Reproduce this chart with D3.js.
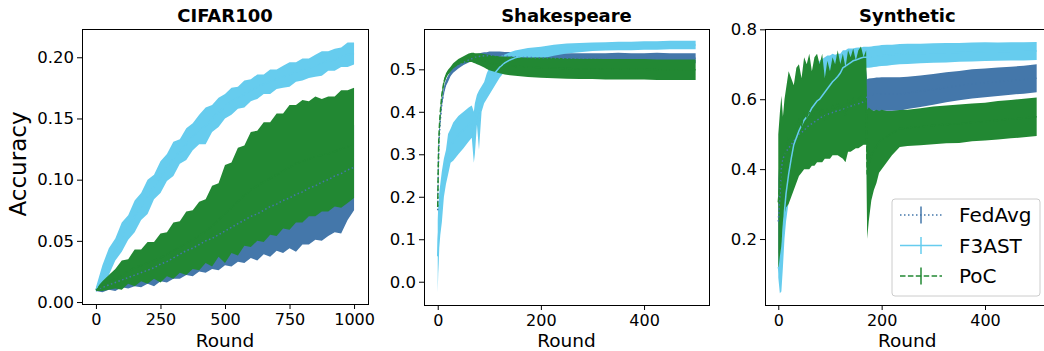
<!DOCTYPE html>
<html>
<head>
<meta charset="utf-8">
<script src="https://cdn.jsdelivr.net/npm/d3@7"></script>
<style>
  body { margin: 0; background: #fff; }
  svg { font-family: "DejaVu Sans", sans-serif; }
</style>
</head>
<body>
<script>
// series order: FedAvg, F3AST, PoC
const seriesNames = ["FedAvg", "F3AST", "PoC"];
const seriesColors = ["#4477aa", "#66ccee", "#228833"];
const seriesDash = ["1.5,2.5", null, "5.5,2.4"];

// CIFAR100 (mean and error bar half-width per round)
const cifarRounds = d3.range(0, 1001, 25);
const cifarFedMean = [0.010,0.012,0.014,0.016,0.018,0.020,0.022,0.024,0.026,0.028,0.031,0.033,0.036,0.039,0.042,0.044,0.047,0.050,0.052,0.055,0.058,0.061,0.064,0.067,0.070,0.072,0.075,0.078,0.080,0.083,0.085,0.088,0.090,0.093,0.095,0.098,0.100,0.103,0.105,0.108,0.110];
const cifarFedErr = [0.001,0.004,0.004,0.007,0.006,0.009,0.009,0.012,0.011,0.015,0.014,0.017,0.017,0.020,0.020,0.023,0.022,0.026,0.025,0.029,0.028,0.032,0.031,0.035,0.034,0.038,0.036,0.041,0.038,0.043,0.041,0.047,0.043,0.046,0.044,0.048,0.046,0.046,0.049,0.041,0.035];
const cifarF3Mean = [0.010,0.022,0.033,0.043,0.053,0.061,0.070,0.078,0.086,0.094,0.102,0.110,0.117,0.123,0.129,0.135,0.141,0.144,0.150,0.155,0.160,0.164,0.167,0.170,0.173,0.176,0.178,0.180,0.182,0.184,0.186,0.188,0.190,0.191,0.193,0.195,0.197,0.198,0.200,0.202,0.203];
const cifarF3Err = [0.002,0.008,0.011,0.009,0.012,0.010,0.013,0.011,0.014,0.010,0.013,0.011,0.014,0.010,0.013,0.011,0.012,0.015,0.011,0.012,0.010,0.011,0.009,0.011,0.009,0.010,0.008,0.010,0.008,0.009,0.010,0.008,0.009,0.008,0.009,0.010,0.008,0.009,0.008,0.010,0.009];
const cifarPocMean = [0.010,0.013,0.016,0.019,0.022,0.025,0.028,0.030,0.032,0.034,0.036,0.039,0.042,0.045,0.048,0.051,0.054,0.058,0.062,0.067,0.072,0.077,0.082,0.087,0.092,0.095,0.098,0.101,0.104,0.107,0.110,0.113,0.115,0.117,0.119,0.120,0.121,0.123,0.125,0.127,0.130];
const cifarPocErr = [0.001,0.004,0.006,0.008,0.012,0.010,0.015,0.013,0.017,0.015,0.020,0.018,0.023,0.021,0.026,0.024,0.028,0.026,0.033,0.030,0.040,0.037,0.044,0.041,0.047,0.045,0.049,0.046,0.050,0.047,0.051,0.048,0.050,0.047,0.049,0.046,0.047,0.045,0.048,0.046,0.045];

// Shakespeare
const shakeRounds = [0,1,2,3,5,8,12,16,20,25,30,40,50,60,66,70,72,76,80,85,90,95,100,110,120,130,140,150,175,200,225,250,275,300,325,350,375,400,425,450,475,500];
const shakeFedMean = [0.168,0.260,0.310,0.340,0.380,0.420,0.450,0.468,0.478,0.490,0.498,0.508,0.516,0.522,0.525,0.527,0.528,0.529,0.530,0.531,0.532,0.532,0.533,0.533,0.532,0.531,0.530,0.529,0.528,0.527,0.527,0.526,0.526,0.526,0.526,0.527,0.526,0.526,0.527,0.526,0.526,0.526];
const shakeFedErr = [0.006,0.008,0.008,0.008,0.008,0.008,0.008,0.007,0.007,0.006,0.006,0.006,0.006,0.006,0.006,0.007,0.007,0.007,0.007,0.008,0.008,0.008,0.009,0.009,0.010,0.010,0.011,0.011,0.012,0.012,0.012,0.012,0.012,0.012,0.012,0.012,0.012,0.012,0.012,0.012,0.012,0.012];
const shakeF3Mean = [0.060,0.100,0.117,0.145,0.170,0.200,0.245,0.270,0.300,0.320,0.330,0.345,0.357,0.370,0.377,0.340,0.360,0.405,0.380,0.430,0.445,0.460,0.472,0.490,0.505,0.515,0.522,0.527,0.534,0.539,0.545,0.549,0.551,0.553,0.554,0.555,0.555,0.556,0.556,0.557,0.557,0.557];
const shakeF3Err = [0.085,0.080,0.073,0.065,0.060,0.060,0.045,0.040,0.048,0.040,0.045,0.045,0.043,0.040,0.038,0.060,0.060,0.035,0.070,0.030,0.025,0.030,0.032,0.030,0.025,0.020,0.018,0.017,0.016,0.014,0.013,0.012,0.011,0.010,0.010,0.010,0.010,0.010,0.010,0.010,0.010,0.010];
const shakePocMean = [0.176,0.270,0.330,0.360,0.400,0.440,0.470,0.485,0.493,0.500,0.508,0.517,0.523,0.527,0.528,0.527,0.526,0.525,0.524,0.522,0.520,0.518,0.516,0.513,0.511,0.509,0.508,0.507,0.505,0.504,0.503,0.502,0.501,0.501,0.500,0.500,0.500,0.500,0.499,0.499,0.499,0.499];
const shakePocErr = [0.005,0.006,0.006,0.006,0.006,0.006,0.006,0.006,0.006,0.006,0.006,0.007,0.008,0.010,0.011,0.012,0.012,0.013,0.014,0.015,0.016,0.017,0.018,0.019,0.020,0.021,0.022,0.022,0.023,0.024,0.024,0.024,0.024,0.024,0.024,0.024,0.024,0.024,0.024,0.024,0.024,0.024];

// Synthetic
const synRounds = [0,3,6,9,12,15,20,25,30,35,40,45,50,55,60,65,70,75,80,85,90,95,100,105,110,115,120,125,130,135,140,145,150,155,160,165,170,172,175,180,185,190,195,200,210,220,235,250,275,300,325,350,375,400,425,450,475,500];
const synFedMean = [0.250,0.320,0.400,0.430,0.440,0.450,0.460,0.470,0.480,0.490,0.500,0.505,0.510,0.520,0.525,0.530,0.535,0.540,0.545,0.550,0.553,0.556,0.560,0.562,0.565,0.567,0.570,0.572,0.575,0.578,0.580,0.583,0.585,0.587,0.590,0.592,0.593,0.612,0.613,0.613,0.614,0.614,0.614,0.615,0.615,0.615,0.615,0.618,0.623,0.628,0.634,0.639,0.644,0.647,0.650,0.653,0.656,0.660];
const synFedErr = [0.120,0.120,0.120,0.110,0.110,0.110,0.090,0.090,0.090,0.090,0.090,0.090,0.090,0.090,0.090,0.090,0.090,0.090,0.090,0.090,0.090,0.090,0.090,0.090,0.090,0.090,0.090,0.090,0.090,0.090,0.090,0.090,0.090,0.090,0.090,0.090,0.090,0.045,0.046,0.047,0.047,0.048,0.048,0.048,0.048,0.048,0.048,0.046,0.045,0.044,0.043,0.042,0.042,0.041,0.041,0.040,0.040,0.040];
const synF3Mean = [0.120,0.100,0.130,0.200,0.280,0.330,0.385,0.430,0.470,0.490,0.510,0.525,0.540,0.550,0.560,0.575,0.585,0.595,0.600,0.610,0.620,0.630,0.640,0.650,0.657,0.665,0.675,0.690,0.695,0.700,0.705,0.710,0.712,0.715,0.718,0.720,0.720,0.720,0.720,0.721,0.722,0.723,0.724,0.725,0.726,0.727,0.729,0.730,0.731,0.732,0.733,0.734,0.735,0.736,0.736,0.737,0.737,0.738];
const synF3Err = [0.030,0.055,0.080,0.080,0.080,0.080,0.080,0.080,0.080,0.080,0.080,0.090,0.090,0.090,0.090,0.090,0.090,0.100,0.110,0.105,0.100,0.095,0.085,0.080,0.070,0.065,0.055,0.050,0.045,0.045,0.040,0.035,0.035,0.033,0.030,0.030,0.030,0.030,0.030,0.030,0.030,0.030,0.030,0.030,0.030,0.029,0.029,0.029,0.028,0.028,0.028,0.027,0.027,0.027,0.026,0.026,0.026,0.026];
const synPocMean = [0.305,0.355,0.395,0.400,0.435,0.460,0.490,0.490,0.490,0.525,0.540,0.525,0.560,0.550,0.565,0.545,0.565,0.575,0.560,0.575,0.545,0.570,0.555,0.580,0.570,0.590,0.568,0.580,0.555,0.595,0.585,0.600,0.585,0.600,0.608,0.595,0.605,0.385,0.413,0.440,0.453,0.465,0.478,0.485,0.493,0.503,0.516,0.518,0.521,0.525,0.528,0.530,0.534,0.536,0.540,0.543,0.546,0.550];
const synPocErr = [0.195,0.205,0.215,0.150,0.165,0.170,0.190,0.170,0.150,0.165,0.160,0.135,0.160,0.150,0.165,0.135,0.155,0.155,0.140,0.155,0.115,0.140,0.125,0.140,0.130,0.150,0.133,0.150,0.135,0.145,0.135,0.145,0.125,0.140,0.143,0.125,0.135,0.185,0.163,0.130,0.113,0.105,0.088,0.085,0.073,0.063,0.053,0.052,0.053,0.054,0.054,0.055,0.054,0.054,0.055,0.055,0.055,0.055];

// tick labels
const cifarXTicks = [0, 250, 500, 750, 1000];
const cifarYTicks = [0, 0.05, 0.10, 0.15, 0.20];
const shakeXTicks = [0, 200, 400];
const shakeYTicks = [0, 0.1, 0.2, 0.3, 0.4, 0.5];
const synXTicks = [0, 200, 400];
const synYTicks = [0.2, 0.4, 0.6, 0.8];

const width = 1044, height = 351;
const axTop = 29;

const panels = [
  { title: "CIFAR100", left: 82, right: 368, bottom: 304, xDomain: [-54, 1054], yDomain: [-0.0016, 0.2231],
    xTicks: cifarXTicks, yTicks: cifarYTicks, fmt: d3.format(".2f"), rounds: cifarRounds,
    mean: [cifarFedMean, cifarF3Mean, cifarPocMean], err: [cifarFedErr, cifarF3Err, cifarPocErr] },
  { title: "Shakespeare", left: 424, right: 709, bottom: 305, xDomain: [-26.6, 525.9], yDomain: [-0.0548, 0.5949],
    xTicks: shakeXTicks, yTicks: shakeYTicks, fmt: d3.format(".1f"), rounds: shakeRounds,
    mean: [shakeFedMean, shakeF3Mean, shakePocMean], err: [shakeFedErr, shakeF3Err, shakePocErr] },
  { title: "Synthetic", left: 765, right: 1049.6, bottom: 305, xDomain: [-25.7, 525], yDomain: [0.0113, 0.8009],
    xTicks: synXTicks, yTicks: synYTicks, fmt: d3.format(".1f"), rounds: synRounds,
    mean: [synFedMean, synF3Mean, synPocMean], err: [synFedErr, synF3Err, synPocErr], legend: true }
];

const svg = d3.select("body").append("svg")
  .attr("width", width)
  .attr("height", height);

panels.forEach(function (p, k) {
  const x = d3.scaleLinear().domain(p.xDomain).range([p.left, p.right]);
  const y = d3.scaleLinear().domain(p.yDomain).range([p.bottom, axTop]);

  const clipId = "clip" + k;
  svg.append("clipPath").attr("id", clipId)
    .append("rect")
    .attr("x", p.left).attr("y", axTop)
    .attr("width", p.right - p.left).attr("height", p.bottom - axTop);

  const plot = svg.append("g").attr("clip-path", "url(#" + clipId + ")");

  // error bands
  seriesNames.forEach(function (s, j) {
    const m = p.mean[j], e = p.err[j];
    const band = d3.area()
      .x((d, i) => x(p.rounds[i]))
      .y0((d, i) => y(m[i] - e[i]))
      .y1((d, i) => y(m[i] + e[i]));
    plot.append("path")
      .datum(m)
      .attr("d", band)
      .attr("fill", seriesColors[j]);
  });

  // mean lines
  seriesNames.forEach(function (s, j) {
    const line = d3.line()
      .x((d, i) => x(p.rounds[i]))
      .y(d => y(d));
    plot.append("path")
      .datum(p.mean[j])
      .attr("d", line)
      .attr("fill", "none")
      .attr("stroke", seriesColors[j])
      .attr("stroke-width", 1.5)
      .attr("stroke-dasharray", seriesDash[j]);
  });

  // axes
  const xAxis = svg.append("g")
    .attr("transform", "translate(0," + p.bottom + ")")
    .call(d3.axisBottom(x).tickValues(p.xTicks).tickSize(5).tickPadding(5).tickFormat(d3.format("d")));
  const yAxis = svg.append("g")
    .attr("transform", "translate(" + p.left + ",0)")
    .call(d3.axisLeft(y).tickValues(p.yTicks).tickSize(5).tickPadding(3).tickFormat(p.fmt));
  [xAxis, yAxis].forEach(function (a) {
    a.attr("font-family", "DejaVu Sans, sans-serif").attr("font-size", 16.5);
    a.select(".domain").remove();
    a.selectAll(".tick line").attr("stroke", "#000").attr("stroke-width", 1);
    a.selectAll(".tick text").attr("fill", "#000");
  });
  xAxis.attr("font-size", 16);

  // frame
  svg.append("rect")
    .attr("x", p.left + 0.5).attr("y", axTop + 0.5)
    .attr("width", p.right - p.left).attr("height", p.bottom - axTop)
    .attr("fill", "none")
    .attr("stroke", "#000")
    .attr("stroke-width", 1);

  svg.append("text")
    .attr("x", (p.left + p.right) / 2).attr("y", 22)
    .attr("text-anchor", "middle")
    .attr("font-size", 18).attr("font-weight", "bold")
    .text(p.title);

  svg.append("text")
    .attr("x", (p.left + p.right) / 2).attr("y", 346.5)
    .attr("text-anchor", "middle")
    .attr("font-size", 18.5)
    .text("Round");

  if (p.legend) {
    const lg = svg.append("g").attr("transform", "translate(892,199)");
    lg.append("rect")
      .attr("width", 148).attr("height", 97).attr("rx", 3)
      .attr("fill", "#fff").attr("fill-opacity", 0.8)
      .attr("stroke", "#cccccc");
    seriesNames.forEach(function (s, j) {
      const cy = 16 + j * 30.5;
      lg.append("line")
        .attr("x1", 8).attr("x2", 50).attr("y1", cy).attr("y2", cy)
        .attr("stroke", seriesColors[j]).attr("stroke-width", 1.5)
        .attr("stroke-dasharray", seriesDash[j]);
      lg.append("line")
        .attr("x1", 29).attr("x2", 29).attr("y1", cy - 8.5).attr("y2", cy + 8.5)
        .attr("stroke", seriesColors[j]).attr("stroke-width", 1.5);
      lg.append("text")
        .attr("x", 67).attr("y", cy + 7)
        .attr("font-size", 20)
        .text(s);
    });
  }
});

svg.append("text")
  .attr("transform", "translate(26,164) rotate(-90)")
  .attr("text-anchor", "middle")
  .attr("font-size", 23)
  .text("Accuracy");
</script>
</body>
</html>
